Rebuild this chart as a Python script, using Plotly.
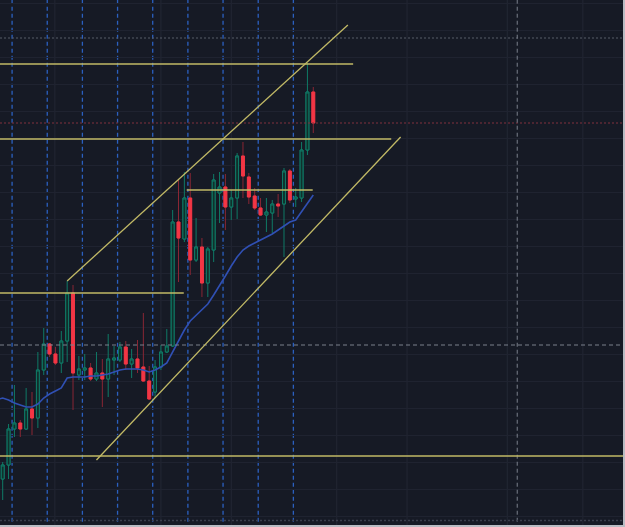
import plotly.graph_objects as go

# ---- data (bar index, OHLC prices) ----
bars = list(range(54))
opens = [121, 135, 171, 177, 171, 191, 182, 230, 256, 246,
         237, 259, 307, 225, 230, 232, 221, 227, 221, 240,
         240, 253, 236, 241, 233, 219, 208, 233, 248, 254,
         378, 361, 402, 340, 353, 317, 350, 407, 413, 393,
         402, 444, 423, 404, 392, 385, 387, 396, 396, 429,
         401, 402, 450, 508]
closes = [135, 171, 177, 171, 191, 182, 230, 256, 246, 237,
          259, 307, 227, 231, 232, 221, 227, 221, 241, 242,
          253, 236, 241, 232, 219, 201, 233, 248, 254, 378,
          362, 402, 340, 353, 317, 351, 420, 413, 393, 402,
          444, 424, 403, 392, 385, 388, 396, 394, 429, 400,
          403, 450, 508, 477]
highs = [138, 176, 215, 180, 212, 208, 248, 272, 257, 253,
         269, 319, 315, 244, 246, 237, 248, 241, 266, 254,
         258, 259, 251, 260, 287, 234, 240, 255, 271, 390,
         421, 428, 427, 382, 362, 353, 426, 428, 426, 410,
         447, 458, 427, 412, 402, 402, 400, 406, 432, 431,
         412, 458, 537, 513]
lows = [100, 121, 163, 163, 170, 165, 172, 225, 243, 235,
        227, 238, 190, 220, 220, 219, 219, 193, 203, 225,
        238, 230, 222, 227, 218, 200, 202, 230, 247, 253,
        318, 358, 325, 338, 303, 303, 338, 377, 370, 380,
        381, 402, 396, 390, 384, 368, 367, 383, 343, 397,
        393, 398, 445, 467]
ma = [202, 200, 197, 195, 193, 193, 196, 202, 206, 209,
      212, 222, 223, 223, 223, 224, 224, 225, 226, 228,
      230, 231, 231, 231, 230, 228, 230, 233, 237, 248,
      260, 270, 279, 285, 290, 296, 305, 314, 324, 334,
      343, 350, 354, 357, 360, 363, 366, 370, 374, 378,
      380, 388, 397, 405]

# drawing tools (bar index / price)
hlines = [  # (price, x0, x1)
    (536, -1, 59.8),
    (461, -1, 66.3),
    (410, 31.4, 52.9),
    (307, -1, 30.9),
    (144, -1, 110),
]
trendlines = [  # (x0, p0, x1, p1)
    (11.0, 319, 58.9, 575),
    (16.0, 140, 67.9, 463),
]
session_breaks = [1.6, 7.6, 13.6, 19.6, 25.6, 31.6, 37.6, 43.6, 49.6]
vgrid = [8.9, 27.0, 39.0, 57.0, 69.0, 86.1, 99.0]
high_price = 562
last_price = 477
cross_x = 87.8
cross_p = 255

BG = "#161a25"
YEL = "#c2ba66"

fig = go.Figure()

# wick layer
fig.add_trace(go.Candlestick(
    x=bars, open=opens, high=highs, low=lows, close=closes,
    increasing=dict(line=dict(color="#0f7a66", width=1), fillcolor="#10302c"),
    decreasing=dict(line=dict(color="#8a2634", width=1), fillcolor="#f23645"),
    whiskerwidth=0, hoverinfo="skip", showlegend=False))
# body layer
body_hi = [max(o, c) for o, c in zip(opens, closes)]
body_lo = [min(o, c) for o, c in zip(opens, closes)]
fig.add_trace(go.Candlestick(
    x=bars, open=opens, high=body_hi, low=body_lo, close=closes,
    increasing=dict(line=dict(color="#0f7a66", width=1), fillcolor="#10302c"),
    decreasing=dict(line=dict(color="#f23645", width=1), fillcolor="#f23645"),
    whiskerwidth=0, hoverinfo="skip", showlegend=False))

# moving average
fig.add_trace(go.Scatter(
    x=[-0.6] + bars, y=[ma[0] - 1] + ma, mode="lines",
    line=dict(color="#3050b4", width=1.6), hoverinfo="skip", showlegend=False))

shapes = []
for gx in vgrid:
    shapes.append(dict(type="line", xref="x", yref="paper", x0=gx, x1=gx, y0=0, y1=1,
                       line=dict(color="#232734", width=1), layer="below"))
for sx in session_breaks:
    shapes.append(dict(type="line", xref="x", yref="paper", x0=sx, x1=sx, y0=0.01, y1=1,
                       line=dict(color="#2b60c0", width=1.3, dash="4px,3px"), layer="below"))
# price lines
shapes.append(dict(type="line", xref="paper", yref="y", x0=0, x1=1, y0=high_price, y1=high_price,
                   line=dict(color="#575c69", width=1, dash="2px,2px")))
shapes.append(dict(type="line", xref="paper", yref="y", x0=0, x1=1, y0=last_price, y1=last_price,
                   line=dict(color="#80303f", width=1, dash="2px,2px")))
# crosshair
shapes.append(dict(type="line", xref="x", yref="paper", x0=cross_x, x1=cross_x, y0=0.01, y1=1,
                   line=dict(color="#7b808c", width=1, dash="4px,3px")))
shapes.append(dict(type="line", xref="paper", yref="y", x0=0, x1=0.992, y0=cross_p, y1=cross_p,
                   line=dict(color="#7b808c", width=1, dash="4px,3px")))
# drawings
for p, a, b in hlines:
    shapes.append(dict(type="line", xref="x", yref="y", x0=a, x1=b, y0=p, y1=p,
                       line=dict(color=YEL, width=1.5)))
for a, p0, b, p1 in trendlines:
    shapes.append(dict(type="line", xref="x", yref="y", x0=a, x1=b, y0=p0, y1=p1,
                       line=dict(color=YEL, width=1.3)))
# bottom time-axis border & window edges
shapes.append(dict(type="line", xref="paper", yref="paper", x0=0, x1=0.997, y0=6.5/527, y1=6.5/527,
                   line=dict(color="#3a3f4c", width=1.5, dash="2px,2px")))
shapes.append(dict(type="line", xref="paper", yref="paper", x0=1 - 1 / 625, x1=1 - 1 / 625, y0=0, y1=1,
                   line=dict(color="#b9bcc3", width=2)))
shapes.append(dict(type="line", xref="paper", yref="paper", x0=0, x1=1, y0=1 / 527, y1=1 / 527,
                   line=dict(color="#b9bcc3", width=2)))

fig.update_layout(
    width=625, height=527,
    margin=dict(l=0, r=0, t=0, b=0),
    paper_bgcolor=BG, plot_bgcolor=BG,
    shapes=shapes,
    showlegend=False,
    xaxis=dict(range=[-0.461, 106.19], showgrid=False, zeroline=False,
               showticklabels=False, rangeslider=dict(visible=False), fixedrange=True),
    yaxis=dict(range=[73, 600], showgrid=True, gridcolor="#1f2330", gridwidth=1,
               tick0=597, dtick=27, zeroline=False, showticklabels=False, fixedrange=True),
)

fig.write_html("out.html", config={"displayModeBar": False})
